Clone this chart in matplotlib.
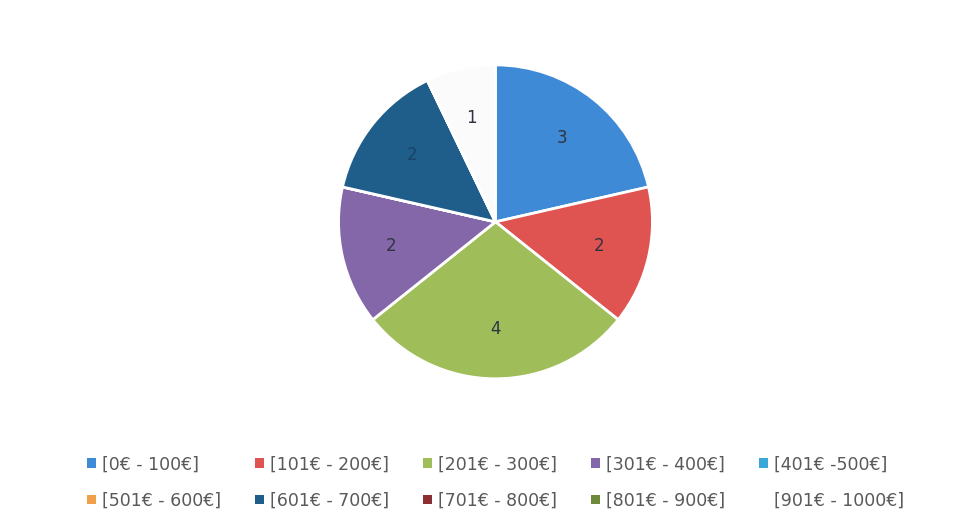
import matplotlib.pyplot as plt
from matplotlib.patches import Patch

categories = ["[0€ - 100€]", "[101€ - 200€]", "[201€ - 300€]", "[301€ - 400€]", "[401€ -500€]",
              "[501€ - 600€]", "[601€ - 700€]", "[701€ - 800€]", "[801€ - 900€]", "[901€ - 1000€]"]
values = [3, 2, 4, 2, 0, 0, 2, 0, 0, 1]
colors = ["#3f8ad6", "#df5350", "#9fbe5a", "#8467a8", "#39a7d8",
          "#f0a04b", "#1f5d8a", "#8c2f32", "#6f8a3a", "#fbfbfb"]

total = sum(values)

def show_count(pct):
    n = int(round(pct * total / 100.0))
    return str(n) if n > 0 else ""

fig = plt.figure(figsize=(9.64, 5.32), dpi=100)
ax = fig.add_axes([0.514 - 0.163, 0.583 - 0.295, 0.326, 0.59])
wedges, texts, autotexts = ax.pie(values, colors=colors, startangle=90, counterclock=False,
                                  autopct=show_count, pctdistance=0.68,
                                  wedgeprops=dict(edgecolor="white", linewidth=2),
                                  textprops=dict(color="#2f3440", fontsize=12))
ax.set_xlim(-1, 1)
ax.set_ylim(-1, 1)
ax.set_aspect("equal")
# label on the dark slice is barely visible in the original
autotexts[6].set_color("#1a4466")

handles = [Patch(facecolor=c, edgecolor="none") for c in colors]
handles[-1] = Patch(facecolor="white", edgecolor="none")
# legend fills column-first, so reorder to read row by row
order = [0, 5, 1, 6, 2, 7, 3, 8, 4, 9]
fig.legend([handles[i] for i in order], [categories[i] for i in order],
           ncol=5, loc="center", bbox_to_anchor=(0.514, 0.093), frameon=False,
           fontsize=12.5, labelcolor="#595959", handlelength=0.5, handleheight=0.5,
           handletextpad=0.35, columnspacing=1.97, labelspacing=1.05)

fig.savefig("out.png", dpi=100)
